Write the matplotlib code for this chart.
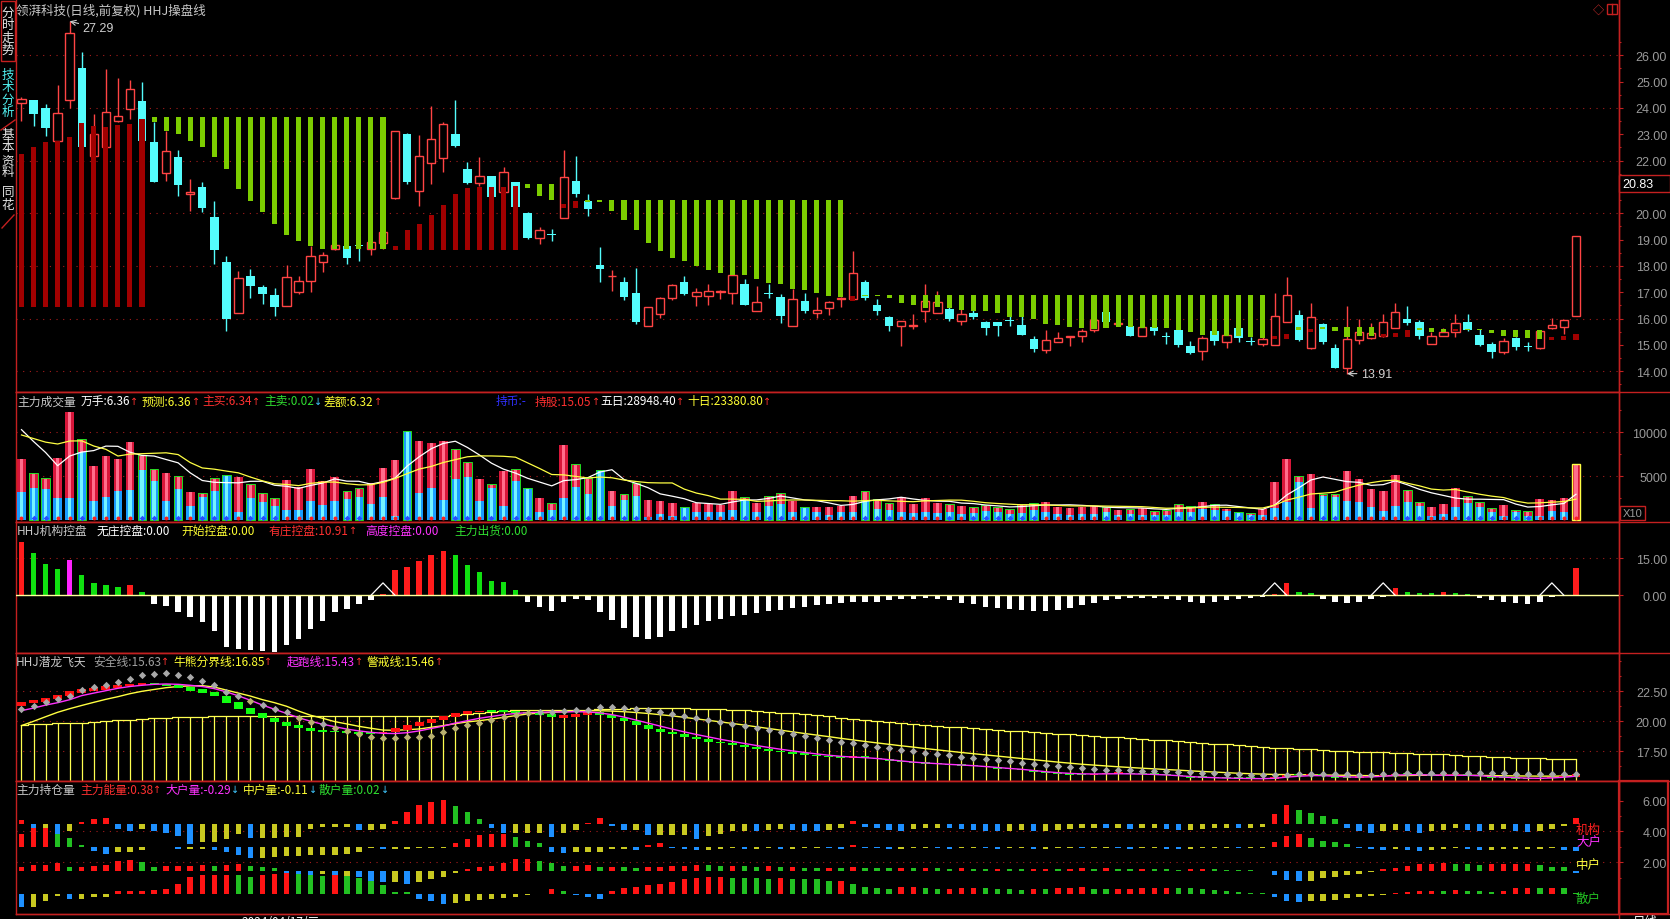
import numpy as np
import pandas as pd
import matplotlib
matplotlib.use("Agg")
import matplotlib.pyplot as plt
from matplotlib.patches import Rectangle
from matplotlib.lines import Line2D

plt.rcParams['font.family'] = ['Noto Sans CJK SC', 'DejaVu Sans']
plt.rcParams['axes.unicode_minus'] = False

# ---------------- daily k-line ----------------
open_ = [24.18, 24.30, 24.00, 22.76, 24.31, 25.52, 22.16, 22.50, 23.49, 23.96,
         24.25, 22.70, 21.53, 22.13, 20.73, 21.00, 19.85, 18.14, 16.20, 17.60,
         17.19, 16.90, 16.49, 17.00, 17.42, 18.14, 18.64, 18.77, 18.80, 18.64,
         18.86, 20.58, 23.01, 20.86, 21.90, 22.09, 23.01, 21.70, 21.14, 21.40,
         20.80, 21.18, 20.00, 19.05, 19.20, 19.81, 21.21, 20.47, 18.04, 17.60,
         17.38, 16.97, 15.73, 16.18, 16.80, 17.38, 16.87, 16.84, 17.00, 16.97,
         17.32, 16.27, 16.98, 16.81, 15.73, 16.66, 16.20, 16.42, 16.74, 16.74,
         17.38, 16.52, 16.05, 15.71, 15.73, 16.30, 16.20, 16.37, 15.89, 16.22,
         15.86, 15.86, 15.93, 15.76, 15.23, 14.82, 15.10, 15.31, 15.33, 15.55,
         16.24, 15.79, 15.73, 15.35, 15.67, 15.34, 15.58, 14.95, 14.78, 15.52,
         15.12, 15.66, 15.14, 15.04, 15.01, 15.86, 16.14, 14.90, 15.78, 14.87,
         14.11, 15.20, 15.25, 15.33, 15.66, 15.98, 15.86, 15.04, 15.33, 15.48,
         15.86, 15.38, 15.04, 14.74, 15.25, 14.95, 14.87, 15.66, 15.69, 16.11]
high = [24.40, 24.30, 24.15, 24.87, 27.29, 26.14, 23.77, 25.48, 25.13, 25.06,
        24.97, 23.45, 23.14, 22.40, 21.30, 21.18, 20.48, 18.39, 17.82, 17.89,
        17.29, 17.15, 18.04, 17.63, 18.77, 18.52, 18.85, 18.83, 18.83, 18.96,
        19.40, 23.14, 23.05, 22.97, 24.06, 23.45, 24.30, 21.94, 22.13, 21.43,
        21.75, 21.20, 20.05, 19.47, 19.40, 22.40, 22.16, 20.73, 18.71, 17.85,
        17.57, 17.91, 16.45, 16.81, 17.31, 17.63, 17.15, 17.31, 17.09, 17.66,
        17.50, 17.25, 17.31, 16.94, 17.12, 16.97, 16.81, 16.68, 16.83, 18.55,
        17.47, 16.74, 16.09, 15.90, 16.17, 17.32, 17.04, 16.43, 16.40, 16.37,
        15.92, 15.86, 16.11, 16.11, 15.35, 15.57, 15.48, 15.33, 15.61, 16.05,
        16.30, 15.85, 15.76, 15.76, 15.70, 15.50, 15.61, 15.16, 15.35, 15.61,
        15.48, 15.69, 15.29, 15.29, 16.96, 17.57, 16.33, 16.59, 15.83, 15.04,
        16.47, 15.98, 15.83, 16.17, 16.59, 16.47, 15.95, 15.48, 15.63, 16.17,
        16.17, 15.60, 15.12, 15.25, 15.29, 15.10, 15.54, 16.01, 15.95, 19.13]
low = [23.52, 23.33, 22.95, 22.76, 23.99, 22.50, 22.16, 22.50, 23.46, 23.58,
       22.70, 21.18, 21.21, 20.67, 20.10, 20.04, 18.08, 15.54, 16.20, 16.77,
       16.56, 16.08, 16.49, 16.93, 17.00, 17.76, 18.60, 18.08, 18.20, 18.43,
       18.64, 20.54, 21.10, 20.29, 21.11, 21.58, 22.50, 21.10, 21.05, 20.60,
       20.77, 20.20, 19.03, 18.83, 18.96, 19.81, 20.60, 19.91, 17.40, 17.06,
       16.72, 15.80, 15.73, 16.01, 16.72, 16.90, 16.49, 16.52, 16.75, 16.56,
       16.53, 16.27, 16.78, 15.84, 15.70, 16.21, 16.03, 16.15, 16.45, 16.74,
       16.72, 16.15, 15.54, 14.97, 15.60, 15.86, 16.20, 15.92, 15.77, 15.99,
       15.39, 15.35, 15.73, 15.39, 14.74, 14.68, 15.10, 14.97, 15.12, 15.48,
       15.80, 15.70, 15.32, 15.33, 15.38, 15.04, 14.91, 14.66, 14.43, 15.01,
       14.88, 15.12, 15.01, 14.97, 15.01, 15.86, 15.16, 14.85, 15.04, 14.11,
       13.91, 15.04, 15.23, 15.29, 15.66, 15.76, 15.23, 15.04, 15.33, 15.29,
       15.54, 14.95, 14.50, 14.66, 14.80, 14.78, 14.85, 15.60, 15.42, 16.11]
close = [24.34, 23.77, 23.23, 23.80, 26.85, 22.53, 23.01, 23.84, 23.68, 24.72,
         22.76, 21.18, 22.35, 21.09, 20.80, 20.19, 18.62, 15.99, 17.54, 17.25,
         16.94, 16.43, 17.57, 17.42, 18.37, 18.43, 18.81, 18.29, 18.75, 18.90,
         19.28, 23.11, 21.18, 22.19, 22.82, 23.39, 22.57, 21.15, 21.40, 20.63,
         21.56, 20.23, 19.06, 19.37, 19.16, 21.37, 20.73, 20.16, 17.88, 17.63,
         16.83, 15.88, 16.43, 16.78, 17.28, 16.93, 17.01, 17.04, 17.02, 17.66,
         16.53, 16.63, 16.93, 16.08, 16.74, 16.30, 16.33, 16.63, 16.75, 17.72,
         16.78, 16.30, 15.70, 15.90, 15.75, 16.66, 16.62, 15.99, 16.18, 16.05,
         15.64, 15.71, 15.90, 15.39, 14.85, 15.19, 15.25, 15.33, 15.52, 15.95,
         15.88, 15.81, 15.35, 15.69, 15.54, 15.30, 14.99, 14.69, 15.25, 15.14,
         15.39, 15.25, 15.12, 15.23, 16.09, 16.90, 15.20, 16.05, 15.12, 14.11,
         15.23, 15.48, 15.45, 15.86, 16.24, 15.85, 15.33, 15.33, 15.48, 15.82,
         15.58, 15.00, 14.74, 15.14, 14.93, 14.92, 15.52, 15.75, 15.95, 19.13]

# HHJ操盘线: bar low / high, state 1 = long (dark red), 0 = short (green)
hhj_lo = [16.43] * 11 + \
         [23.45, 23.14, 23.01, 22.76, 22.50, 22.15, 21.68, 20.92, 20.48, 20.04,
          19.61, 19.19, 18.96, 18.77, 18.64, 18.64, 18.64, 18.64, 18.64, 18.64] + \
         [18.62] * 11 + [20.95, 20.67, 20.52, 20.19, 20.20] + \
         [20.44, 20.44, 20.10, 19.76, 19.38, 18.87, 18.58, 18.30, 18.20, 18.01, 17.86,
          17.73, 17.67, 17.67, 17.50, 17.35, 17.31, 17.13, 17.09, 16.97, 16.87, 16.83] + \
         [16.68] + \
         [16.84, 16.84, 16.80, 16.60, 16.50, 16.40, 16.43, 16.40, 16.33, 16.30,
          16.27, 16.20, 16.07, 16.05, 16.00, 15.80, 15.77, 15.69, 15.64, 15.60,
          15.64, 15.69, 15.69, 15.64, 15.64, 15.64, 15.57, 15.50, 15.38, 15.38,
          15.33, 15.33, 15.29, 15.25] + \
         [15.23, 15.23, 15.57, 15.50, 15.60, 15.52, 15.29, 15.33, 15.33, 15.29,
          15.29, 15.29, 15.57, 15.48, 15.50, 15.52, 15.55, 15.55, 15.45, 15.33,
          15.29, 15.26, 15.22, 15.19, 15.19, 15.19]
hhj_hi = [22.25, 22.50, 22.70, 22.76, 22.90, 23.42, 23.30, 23.27, 23.35, 23.38, 23.58] + \
         [23.64] * 20 + \
         [18.76, 19.37, 19.60, 19.93, 20.31, 20.73, 20.95, 20.99, 20.99, 20.99, 21.05] + \
         [21.10, 21.10, 21.10, 20.35, 20.47] + [20.50] * 22 + [16.85] + [16.90] * 34 + \
         [15.33, 15.42, 15.67, 15.60, 15.67, 15.67, 15.67, 15.67, 15.67, 15.42,
          15.45, 15.57, 15.63, 15.63, 15.60, 15.60, 15.60, 15.60, 15.57, 15.57,
          15.57, 15.57, 15.57, 15.31, 15.33, 15.42]
hhj_state = [1] * 11 + [0] * 20 + [1] * 11 + [0] * 3 + [1] * 2 + [0] * 22 + [1] + [0] * 34 + \
            [1, 1, 0, 1, 0, 0, 0, 0, 0, 1, 1, 1, 0, 0, 0, 1, 0, 0, 0, 0, 0, 0, 0, 1, 1, 1]

# ---------------- 主力成交量 ----------------
volume_prev = [9500, 8800, 9200, 8900, 9050, 12100, 11050, 14600, 6800]
volume = [6960, 5370, 4800, 7080, 12300, 9240, 6200, 7340, 6960, 8930,
          7450, 5830, 5370, 5070, 3250, 3100, 4800, 5180, 4950, 4120,
          3140, 2530, 4580, 3750, 5830, 4500, 4880, 3290, 3670, 4200,
          5940, 6850, 10110, 8970, 8780, 8970, 8100, 6590, 4690, 4120,
          5570, 5830, 3670, 2530, 1970, 8550, 6400, 4800, 5710, 3290,
          2990, 4200, 2310, 2230, 1970, 1550, 1930, 1850, 1770, 3290,
          2690, 1970, 2720, 3100, 2230, 1550, 1550, 1470, 1660, 2800,
          3300, 2400, 2000, 2600, 1800, 2500, 2000, 1900, 1600, 1500,
          1700, 1500, 1300, 1800, 2000, 2100, 1500, 1400, 1500, 1600,
          1500, 1200, 1300, 1400, 1100, 1200, 1800, 1600, 2050, 1860,
          1280, 1000, 820, 1280, 4320, 6960, 5070, 5260, 2990, 2990,
          5640, 4690, 3560, 3370, 5140, 3440, 2120, 1550, 1860, 3670,
          2800, 2120, 1400, 1740, 1170, 1100, 2420, 2350, 2530, 6400]
volume_main = [3250, 3670, 3560, 2530, 2530, 7790, 2230, 2690, 3370, 3440,
               5750, 4430, 2230, 3560, 1660, 2610, 3290, 5180, 910, 2530,
               2050, 1660, 1170, 1170, 2160, 1770, 2160, 2420, 2610, 1850,
               2610, 520, 10110, 3100, 3670, 2310, 4690, 4950, 2160, 3670,
               1660, 4500, 3670, 990, 1170, 2530, 3820, 2990, 5710, 1660,
               2310, 2800, 410, 720, 520, 1550, 910, 910, 910, 1170,
               2310, 910, 1660, 1890, 910, 1550, 910, 640, 910, 900,
               2200, 1300, 1200, 900, 800, 900, 800, 1000, 700, 800,
               1100, 900, 700, 800, 1200, 900, 700, 600, 700, 700,
               900, 600, 700, 600, 600, 600, 1000, 900, 1280, 1170,
               1100, 920, 550, 630, 1360, 2050, 4320, 1360, 2800, 2610,
               2160, 2050, 1550, 1100, 1590, 2050, 1670, 530, 720, 1480,
               1930, 1550, 990, 530, 990, 460, 460, 1100, 990, 0]

# ---------------- HHJ机构控盘 ----------------
control = [21.4, 17.0, 12.6, 10.6, 14.2, 8.2, 5.0, 4.2, 3.4, 4.2,
           1.3, -3.5, -4.3, -6.7, -8.7, -10.7, -14.2, -20.6, -21.4, -22.0,
           -22.3, -22.7, -20.0, -17.6, -13.5, -10.3, -6.7, -5.5, -3.4, -1.7,
           0.4, 10.2, 11.5, 13.8, 16.2, 17.8, 16.2, 12.2, 9.4, 5.8,
           5.4, 2.1, -2.5, -4.6, -6.2, -2.5, -1.6, -1.7, -6.6, -9.8,
           -13.0, -16.6, -17.4, -16.6, -14.2, -13.0, -11.8, -10.5, -9.5, -8.5,
           -8.0, -7.0, -6.5, -6.0, -5.0, -4.5, -4.0, -3.5, -3.0, -2.5,
           -2.5, -2.5, -2.0, -1.5, -1.5, -1.2, -1.5, -2.0, -3.0, -3.5,
           -4.5, -5.0, -5.5, -6.0, -6.5, -6.5, -6.0, -5.0, -4.0, -3.0,
           -2.0, -1.5, -1.2, -1.0, -1.0, -1.5, -2.0, -2.5, -3.0, -2.5,
           -2.0, -1.5, -1.2, -0.5, 0.4, 5.0, 1.5, 0.8, -1.5, -2.5,
           -3.0, -2.5, -1.5, -0.5, 3.0, 1.5, 1.0, 0.8, 1.2, 0.8,
           0.5, -1.0, -2.0, -2.5, -3.0, -3.5, -2.5, -0.5, 0.3, 10.91]
high_control_idx = [4]
signal_idx = [30, 104, 113, 127]
signal_height = 5.0

# ---------------- HHJ潜龙飞天 ----------------
safe_line = [21.00, 21.30, 21.58, 21.86, 22.14, 22.61, 22.83, 23.02, 23.25, 23.53,
             23.86, 23.94, 24.00, 23.86, 23.66, 23.39, 23.02, 22.47, 22.14, 21.72,
             21.39, 21.00, 20.75, 20.25, 19.97, 19.78, 19.44, 19.22, 18.94, 18.66,
             18.58, 18.58, 18.66, 18.72, 18.80, 19.08, 19.44, 19.69, 19.86, 20.14,
             20.33, 20.53, 20.66, 20.75, 20.80, 20.89, 20.94, 20.94, 21.20, 21.15,
             21.10, 21.00, 20.90, 20.75, 20.60, 20.45, 20.30, 20.12, 19.95, 19.78,
             19.60, 19.42, 19.25, 19.08, 18.90, 18.75, 18.60, 18.45, 18.30, 18.15,
             18.00, 17.88, 17.75, 17.62, 17.50, 17.38, 17.25, 17.15, 17.05, 16.95,
             16.85, 16.75, 16.65, 16.55, 16.45, 16.35, 16.25, 16.18, 16.10, 16.04,
             15.98, 15.94, 15.90, 15.87, 15.85, 15.82, 15.78, 15.74, 15.70, 15.66,
             15.62, 15.59, 15.56, 15.53, 15.50, 15.52, 15.58, 15.62, 15.64, 15.62,
             15.58, 15.55, 15.55, 15.57, 15.60, 15.65, 15.68, 15.68, 15.66, 15.65,
             15.65, 15.66, 15.66, 15.65, 15.62, 15.60, 15.58, 15.58, 15.60, 15.63]
bull_bear = [19.69, 19.74, 19.79, 19.83, 19.86, 19.89, 19.94, 20.02, 20.09, 20.14,
             20.19, 20.24, 20.29, 20.33, 20.36, 20.38, 20.41, 20.43, 20.45, 20.46,
             20.47, 20.47, 20.47, 20.47, 20.47, 20.47, 20.47, 20.47, 20.47, 20.47,
             20.47, 20.47, 20.47, 20.47, 20.47, 20.47, 20.52, 20.60, 20.70, 20.80,
             20.88, 20.92, 20.94, 20.94, 20.94, 20.94, 20.94, 20.94, 21.00, 21.03,
             21.05, 21.07, 21.08, 21.08, 21.08, 21.07, 21.05, 21.03, 21.00, 20.95,
             20.90, 20.85, 20.80, 20.72, 20.65, 20.57, 20.50, 20.40, 20.30, 20.20,
             20.10, 20.00, 19.90, 19.82, 19.75, 19.68, 19.60, 19.55, 19.50, 19.42,
             19.35, 19.28, 19.20, 19.15, 19.10, 19.03, 18.96, 18.90, 18.85, 18.78,
             18.70, 18.65, 18.60, 18.52, 18.45, 18.40, 18.33, 18.27, 18.20, 18.14,
             18.08, 18.02, 17.95, 17.88, 17.80, 17.75, 17.70, 17.65, 17.60, 17.55,
             17.50, 17.47, 17.44, 17.41, 17.38, 17.34, 17.30, 17.27, 17.25, 17.22,
             17.12, 17.08, 17.04, 17.00, 16.95, 16.92, 16.90, 16.88, 16.86, 16.85]
start_line = [20.89, 21.10, 21.35, 21.55, 21.80, 22.14, 22.35, 22.55, 22.75, 22.90,
              23.00, 23.08, 23.11, 23.08, 23.00, 22.90, 22.72, 22.45, 22.12, 21.75,
              21.35, 21.00, 20.65, 20.30, 20.00, 19.75, 19.55, 19.35, 19.20, 19.08,
              19.00, 18.98, 19.05, 19.20, 19.40, 19.60, 19.85, 20.05, 20.25, 20.40,
              20.55, 20.65, 20.72, 20.75, 20.78, 20.78, 20.80, 20.78, 20.70, 20.55,
              20.35, 20.10, 19.85, 19.60, 19.35, 19.12, 18.90, 18.70, 18.50, 18.32,
              18.15, 17.98, 17.82, 17.67, 17.53, 17.40, 17.28, 17.17, 17.08, 17.02,
              16.97, 16.90, 16.80, 16.70, 16.60, 16.53, 16.47, 16.41, 16.36, 16.30,
              16.23, 16.15, 16.07, 16.00, 15.90, 15.80, 15.72, 15.66, 15.62, 15.61,
              15.62, 15.63, 15.62, 15.60, 15.57, 15.53, 15.47, 15.40, 15.34, 15.30,
              15.27, 15.25, 15.23, 15.22, 15.25, 15.35, 15.42, 15.47, 15.47, 15.42,
              15.37, 15.35, 15.37, 15.42, 15.50, 15.55, 15.55, 15.52, 15.50, 15.50,
              15.50, 15.47, 15.40, 15.35, 15.30, 15.26, 15.25, 15.28, 15.34, 15.43]
warn_line = [19.64, 20.00, 20.38, 20.75, 21.05, 21.32, 21.58, 21.83, 22.05, 22.30,
             22.50, 22.65, 22.80, 22.90, 22.95, 22.97, 22.85, 22.60, 22.35, 22.10,
             21.80, 21.55, 21.25, 20.85, 20.50, 20.25, 19.97, 19.78, 19.58, 19.42,
             19.27, 19.25, 19.30, 19.36, 19.50, 19.64, 19.80, 19.95, 20.05, 20.18,
             20.33, 20.47, 20.61, 20.68, 20.75, 20.80, 20.85, 20.89, 20.88, 20.85,
             20.80, 20.73, 20.65, 20.55, 20.45, 20.33, 20.20, 20.08, 19.95, 19.82,
             19.68, 19.54, 19.40, 19.26, 19.12, 18.98, 18.85, 18.72, 18.58, 18.45,
             18.32, 18.20, 18.08, 17.96, 17.85, 17.73, 17.62, 17.51, 17.40, 17.30,
             17.20, 17.10, 17.00, 16.90, 16.80, 16.70, 16.60, 16.51, 16.42, 16.35,
             16.28, 16.21, 16.15, 16.09, 16.04, 15.98, 15.93, 15.87, 15.82, 15.77,
             15.72, 15.67, 15.63, 15.60, 15.57, 15.56, 15.55, 15.54, 15.53, 15.51,
             15.50, 15.48, 15.47, 15.47, 15.47, 15.48, 15.50, 15.50, 15.50, 15.50,
             15.50, 15.49, 15.48, 15.46, 15.45, 15.44, 15.43, 15.43, 15.44, 15.46]
box_open = [21.25, 21.53, 21.64, 21.86, 22.14, 22.36, 22.55, 22.64, 22.75, 22.97,
            23.02, 23.22, 23.14, 23.03, 22.89, 22.69, 22.47, 22.14, 21.58, 21.11,
            20.66, 20.28, 19.97, 19.69, 19.44, 19.30, 19.22, 19.14, 19.08, 19.08,
            18.99, 19.08, 19.30, 19.64, 19.86, 20.14, 20.39, 20.61, 20.75, 20.94,
            20.94, 20.89, 20.80, 20.69, 20.61, 20.30, 20.39, 20.53, 20.75, 20.55,
            20.30, 20.00, 19.65, 19.35, 19.10, 18.90, 18.70, 18.50, 18.30, 18.15,
            18.00, 17.85, 17.70, 17.55, 17.40, 17.30, 17.20, 17.10, 17.00, 16.95,
            17.00, 16.95, 16.85, 16.70, 16.60, 16.50, 16.45, 16.40, 16.35, 16.30,
            16.25, 16.15, 16.05, 16.00, 15.90, 15.75, 15.65, 15.60, 15.55, 15.52,
            15.58, 15.64, 15.66, 15.60, 15.58, 15.55, 15.50, 15.40, 15.30, 15.28,
            15.25, 15.24, 15.22, 15.20, 15.19, 15.35, 15.55, 15.50, 15.55, 15.45,
            15.30, 15.28, 15.35, 15.40, 15.50, 15.60, 15.58, 15.50, 15.45, 15.47,
            15.52, 15.50, 15.40, 15.30, 15.28, 15.22, 15.18, 15.25, 15.32, 15.38]
box_close = [21.58, 21.80, 21.97, 22.19, 22.53, 22.69, 22.78, 22.91, 23.05, 23.14,
             23.22, 23.08, 22.97, 22.80, 22.50, 22.36, 22.08, 21.53, 21.03, 20.61,
             20.25, 19.91, 19.64, 19.41, 19.22, 19.14, 19.08, 19.03, 18.94, 18.97,
             19.14, 19.44, 19.69, 19.97, 20.19, 20.47, 20.69, 20.86, 20.89, 20.75,
             20.80, 20.72, 20.61, 20.53, 20.33, 20.53, 20.61, 20.75, 20.55, 20.30,
             20.00, 19.65, 19.35, 19.10, 18.90, 18.70, 18.50, 18.30, 18.15, 18.00,
             17.85, 17.70, 17.55, 17.40, 17.30, 17.20, 17.10, 17.00, 16.95, 17.00,
             16.95, 16.85, 16.70, 16.60, 16.50, 16.45, 16.40, 16.35, 16.30, 16.25,
             16.15, 16.05, 16.00, 15.90, 15.75, 15.65, 15.60, 15.55, 15.52, 15.58,
             15.64, 15.66, 15.60, 15.58, 15.55, 15.50, 15.40, 15.30, 15.28, 15.25,
             15.24, 15.22, 15.20, 15.19, 15.35, 15.55, 15.50, 15.55, 15.45, 15.30,
             15.28, 15.35, 15.40, 15.50, 15.60, 15.58, 15.50, 15.45, 15.47, 15.52,
             15.50, 15.40, 15.30, 15.28, 15.22, 15.18, 15.25, 15.32, 15.38, 15.60]

# ---------------- 主力持仓量 ----------------
inst_qty = [0.22, -0.37, -0.37, -0.80, -0.48, 0.11, 0.28, 0.39, -0.37, -0.48,
            -0.37, -0.48, -0.58, -0.80, -1.30, -1.19, -1.19, -0.97, -0.69, -0.91,
            -0.91, -0.91, -0.87, -0.87, -0.37, -0.22, -0.22, -0.22, -0.43, -0.43,
            -0.32, 0.15, 0.76, 1.19, 1.41, 1.52, 1.13, 0.76, 0.28, -0.28,
            -0.61, -0.61, -0.61, -0.61, -0.87, -0.61, -0.39, 0.04, 0.39, -0.17,
            -0.43, -0.43, -0.76, -0.76, -0.76, -0.76, -0.97, -0.80, -0.70, -0.50,
            -0.45, -0.50, -0.40, -0.35, -0.40, -0.45, -0.50, -0.40, -0.30, 0.20,
            -0.20, -0.30, -0.40, -0.45, -0.35, -0.30, -0.25, -0.30, -0.35, -0.40,
            -0.45, -0.50, -0.45, -0.40, -0.50, -0.45, -0.40, -0.35, -0.30, -0.25,
            -0.30, -0.30, -0.35, -0.30, -0.30, -0.35, -0.40, -0.40, -0.35, -0.30,
            -0.25, -0.30, -0.25, -0.20, 0.60, 1.20, 0.90, 0.70, 0.50, 0.30,
            -0.30, -0.50, -0.60, -0.50, -0.40, -0.50, -0.60, -0.50, -0.40, -0.30,
            -0.40, -0.45, -0.40, -0.37, -0.48, -0.54, -0.48, -0.37, -0.15, 0.38]
big_qty = [0.86, 1.19, 1.19, 0.80, 0.58, 0.11, -0.26, -0.48, -0.32, -0.32,
           -0.22, -0.04, -0.04, -0.17, -0.17, -0.17, -0.22, -0.32, -0.54, -0.76,
           -0.76, -0.65, -0.60, -0.60, -0.54, -0.54, -0.54, -0.48, -0.32, -0.11,
           -0.17, -0.17, -0.17, -0.11, -0.11, -0.06, 0.26, 0.48, 0.76, 0.86,
           0.86, 0.65, 0.39, 0.22, -0.32, -0.39, -0.32, -0.32, -0.32, -0.17,
           -0.17, -0.22, 0.11, 0.22, -0.11, -0.17, -0.22, -0.20, -0.15, -0.10,
           -0.15, -0.12, -0.10, -0.15, -0.12, -0.10, -0.08, -0.10, -0.12, 0.10,
           -0.05, -0.10, -0.15, -0.12, -0.10, -0.08, -0.10, -0.12, -0.10, -0.08,
           -0.10, -0.12, -0.10, -0.10, -0.15, -0.12, -0.10, -0.08, -0.10, -0.10,
           -0.08, -0.10, -0.12, -0.10, -0.10, -0.12, -0.15, -0.12, -0.10, -0.10,
           -0.08, -0.10, -0.08, -0.05, 0.30, 0.70, 0.80, 0.60, 0.40, 0.30,
           0.20, -0.10, -0.15, -0.20, -0.15, -0.20, -0.25, -0.20, -0.15, -0.10,
           -0.15, -0.20, -0.20, -0.17, -0.17, -0.15, -0.15, -0.06, -0.22, -0.29]
mid_qty = [0.26, 0.37, 0.37, 0.48, 0.22, 0.22, 0.32, 0.39, 0.60, 0.69,
           0.54, 0.26, 0.32, 0.32, 0.32, 0.37, 0.32, 0.37, 0.43, 0.32,
           0.26, 0.17, -0.17, -0.22, -0.32, -0.22, -0.32, -0.32, -0.43, -0.65,
           -0.76, -0.76, -0.86, -0.76, -0.54, -0.39, -0.17, 0.11, 0.22, 0.32,
           0.48, 0.76, 0.76, 0.65, 0.48, 0.32, 0.32, 0.39, 0.26, 0.26,
           0.22, 0.17, 0.22, 0.26, 0.32, 0.32, 0.39, 0.35, 0.30, 0.32,
           0.28, 0.25, 0.27, 0.22, 0.25, 0.20, 0.18, 0.20, 0.17, 0.25,
           0.20, 0.18, 0.15, 0.18, 0.15, 0.17, 0.15, 0.12, 0.15, 0.13,
           0.10, 0.12, 0.10, 0.08, 0.10, 0.12, 0.10, 0.12, 0.15, 0.13,
           0.15, 0.12, 0.10, 0.12, 0.10, 0.08, 0.06, 0.08, 0.10, 0.08,
           0.06, 0.05, 0.04, -0.05, -0.30, -0.60, -0.70, -0.65, -0.50, -0.40,
           -0.30, -0.20, -0.10, 0.10, 0.20, 0.30, 0.40, 0.45, 0.50, 0.45,
           0.40, 0.38, 0.40, 0.43, 0.43, 0.45, 0.37, 0.26, 0.22, -0.15]
retail_qty = [-0.86, -0.86, -0.50, -0.17, -0.32, -0.32, -0.22, -0.22, 0.17, 0.17,
              0.17, 0.22, 0.32, 0.65, 1.08, 1.19, 1.19, 1.25, 1.19, 1.12,
              1.19, 1.30, 1.34, 1.30, 1.19, 1.17, 1.19, 1.15, 1.04, 0.82,
              0.54, 0.11, 0.10, -0.33, -0.50, -0.65, -0.60, -0.50, -0.43, -0.37,
              -0.26, -0.22, -0.11, -0.04, 0.28, 0.17, -0.11, -0.22, -0.33, 0.17,
              0.39, 0.43, 0.60, 0.65, 0.78, 0.97, 1.04, 1.06, 1.08, 1.04,
              1.02, 1.00, 0.98, 1.00, 0.98, 0.96, 0.93, 0.82, 0.84, 0.65,
              0.43, 0.35, 0.34, 0.43, 0.44, 0.39, 0.33, 0.34, 0.39, 0.40,
              0.38, 0.33, 0.28, 0.27, 0.33, 0.31, 0.39, 0.40, 0.41, 0.33,
              0.32, 0.33, 0.34, 0.35, 0.39, 0.40, 0.37, 0.36, 0.28, 0.22,
              0.17, 0.12, 0.08, 0.02, -0.20, -0.45, -0.55, -0.50, -0.45, -0.40,
              -0.30, -0.20, -0.12, -0.05, 0.05, 0.10, 0.15, 0.20, 0.18, 0.22,
              0.20, 0.15, 0.12, 0.17, 0.35, 0.39, 0.35, 0.37, 0.35, 0.02]
holder_names = ['机构', '大户', '中户', '散户']
last_price_label = '20.83'

# ---------------- layout ----------------
W, H = 1670, 920
LEFT, RIGHT = 16, 1619
RED = '#c42020'
GRID = '#a81c1c'
GREY = '#9a9a9a'
UPC = '#ff4444'
DNC = '#54fcfc'

n = len(close)
x = np.arange(n)
o, h, l, c = map(np.array, (open_, high, low, close))
up = c >= o

fig = plt.figure(figsize=(W / 100, H / 100), dpi=100, facecolor='black')
renderer = fig.canvas.get_renderer()


def fx(px):
    return px / W


def fy(py):
    return 1 - py / H


def panel(top, bottom, ylim):
    ax = fig.add_axes([fx(LEFT), fy(bottom), (RIGHT - LEFT) / W, (bottom - top) / H])
    ax.set_facecolor('black')
    ax.set_xlim(-0.456, 132.57)
    ax.set_ylim(ylim)
    for s in ax.spines.values():
        s.set_color(RED)
        s.set_linewidth(1.0)
    ax.tick_params(axis='x', which='both', bottom=False, labelbottom=False)
    ax.yaxis.tick_right()
    return ax


def right_ticks(ax, major, fmt, minor=(), hide=()):
    ax.set_yticks(major)
    ax.set_yticklabels(['' if v in hide else fmt.format(v) for v in major])
    ax.set_yticks(list(minor), minor=True)
    ax.tick_params(axis='y', which='major', length=3, width=0.8, color=RED,
                   labelcolor=GREY, labelsize=9, pad=(1667 - RIGHT - 4) * 0.72)
    ax.tick_params(axis='y', which='minor', length=1.6, width=0.8, color=RED)
    for t in ax.get_yticklabels():
        t.set_horizontalalignment('right')
        t.set_fontfamily('Liberation Sans')


def dotted(ax, levels):
    for v in levels:
        ax.axhline(v, color=GRID, lw=0.8, ls=(0, (1, 5)), zorder=0.5)


def header(y, groups, size=8.5):
    # each group: text pieces drawn one after another; arrows are small and narrow
    for x0, parts in groups:
        xx = x0
        for s, col in parts:
            if s in ('↑', '↓'):
                t = fig.text(fx(xx), fy(y), s, color=col, fontsize=7, va='center', ha='left',
                             family='DejaVu Sans')
            else:
                t = fig.text(fx(xx), fy(y), s, color=col, fontsize=size, va='center', ha='left')
            xx += t.get_window_extent(renderer).width


def fig_line(xs, ys, color=RED, lw=1.0):
    fig.add_artist(Line2D([fx(v) for v in xs], [fy(v) for v in ys], color=color, lw=lw,
                          transform=fig.transFigure))


def fig_rect(x0, y0, w, hgt, edge=RED, face='none', lw=1.0):
    fig.add_artist(Rectangle((fx(x0), fy(y0 + hgt)), w / W, hgt / H, transform=fig.transFigure,
                             edgecolor=edge, facecolor=face, lw=lw))


# ---------------- panel 1: price ----------------
ax1 = panel(0, 393, (13.212, 28.138))
ax1.spines['top'].set_visible(False)
dotted(ax1, [14, 16, 18, 20, 22, 24, 26])
# the 21.00 label sits under the last-price box, as in the terminal
right_ticks(ax1, list(range(14, 27)), '{:.2f}', np.arange(13.5, 27, 1.0), hide=(21,))

lo_b = np.minimum(o, c)
hi_b = np.maximum(o, c)
hb = np.maximum(hi_b - lo_b, 0.03)
ax1.vlines(x[up], hi_b[up], h[up], color=UPC, lw=1, zorder=2)
ax1.vlines(x[up], l[up], lo_b[up], color=UPC, lw=1, zorder=2)
ax1.bar(x[up], hb[up], bottom=lo_b[up], width=0.7, facecolor='black', edgecolor=UPC,
        linewidth=1, zorder=2)
ax1.vlines(x[~up], l[~up], h[~up], color=DNC, lw=1, zorder=2)
ax1.bar(x[~up], hb[~up], bottom=lo_b[~up], width=0.7, color=DNC, linewidth=0, zorder=2)

hl, hh, hs = np.array(hhj_lo), np.array(hhj_hi), np.array(hhj_state)
ax1.bar(x[hs == 1], (hh - hl)[hs == 1], bottom=hl[hs == 1], width=0.42, color='#a00000', zorder=3)
ax1.bar(x[hs == 0], (hh - hl)[hs == 0], bottom=hl[hs == 0], width=0.42, color='#7ccd00', zorder=3)

imax, imin = int(np.argmax(h)), int(np.argmin(l))
ax1.annotate(f'{h[imax]:.2f}', xy=(imax, h[imax]), xytext=(13, -7), textcoords='offset pixels',
             color='#d0d0d0', fontsize=9, va='center', family='Liberation Sans',
             arrowprops=dict(arrowstyle='->', color='#d0d0d0', lw=0.8, shrinkA=1, shrinkB=0))
ax1.annotate(f'{l[imin]:.2f}', xy=(imin, l[imin]), xytext=(14, 0), textcoords='offset pixels',
             color='#d0d0d0', fontsize=9, va='center', family='Liberation Sans',
             arrowprops=dict(arrowstyle='->', color='#d0d0d0', lw=0.8, shrinkA=1, shrinkB=0))

fig.text(fx(16), fy(11), '领湃科技(日线,前复权) HHJ操盘线', color='#c8c8c8', fontsize=9,
         va='center', ha='left')

# ---------------- panel 2: volume ----------------
ax2 = panel(393, 523, (-193, 14580))
dotted(ax2, [5000, 10000])
right_ticks(ax2, [5000, 10000], '{:.0f}', [2500, 7500, 12500])
vol = np.array(volume, dtype=float)
vmain = np.array(volume_main, dtype=float)
ax2.bar(x, vol, width=0.72, color='#d8163a', zorder=2)
ax2.bar(x, vol, width=0.26, color='#ff6d8c', zorder=2)
ax2.bar(x, vmain, width=0.72, color='#1a9cff', zorder=3)
ax2.bar(x, vmain, width=0.26, color='#74f4ff', zorder=3)
ax2.bar(x[~up], vol[~up], width=0.72, fill=False, edgecolor='#22dd22', linewidth=0.7, zorder=4)
ax2.bar(x[-1:], vol[-1:], width=0.72, fill=False, edgecolor='#ffff44', linewidth=1.0, zorder=4)
vs = pd.Series(volume_prev + volume, dtype=float)
ma5 = vs.rolling(5).mean().iloc[len(volume_prev):].to_numpy()
ma10 = vs.rolling(10).mean().iloc[len(volume_prev):].to_numpy()
ax2.plot(x, ma5, color='white', lw=0.9, zorder=6)
ax2.plot(x, ma10, color='#ffff44', lw=0.9, zorder=6)
ax2.scatter(x[up], np.full(up.sum(), 230.0), s=8, c='#ff2020', marker='o', zorder=7, linewidths=0)
ax2.scatter(x[~up], np.full((~up).sum(), 230.0), s=8, c='#2a4cff', marker='D', zorder=7,
            linewidths=0)

# ---------------- panel 3: 机构控盘 ----------------
ax3 = panel(523, 654, (-23.18, 29.47))
dotted(ax3, [15])
right_ticks(ax3, [0, 15], '{:.2f}')
ctrl = np.array(control)
prev = np.r_[0.0, ctrl[:-1]]
ccol = np.where(ctrl < 0, '#ffffff', np.where(ctrl >= prev, '#ff1c1c', '#10e010')).astype(object)
for k in high_control_idx:
    ccol[k] = '#ff22ff'
ax3.bar(x, ctrl, width=0.45, color=list(ccol), zorder=2)
ax3.axhline(0, color='#ffff99', lw=1.0, zorder=3)
for k in signal_idx:
    ax3.plot([k - 1, k, k + 1], [0, signal_height, 0], color='white', lw=0.9, zorder=4)

# ---------------- panel 4: 潜龙飞天 ----------------
ax4 = panel(654, 782, (15.025, 25.69))
dotted(ax4, [17.5, 20, 22.5])
right_ticks(ax4, [17.5, 20, 22.5], '{:.2f}', [16.25, 18.75, 21.25, 23.75, 25.0])
bb = np.array(bull_bear)
ax4.vlines(x, 15.025, bb, color='#ffff50', lw=0.9, zorder=1)
ax4.step(x, bb, where='mid', color='#ffff50', lw=0.9, zorder=1)
ax4.plot(x, warn_line, color='#ffff40', lw=1.0, zorder=2)
bo, bc = np.array(box_open), np.array(box_close)
blo = np.minimum(bo, bc)
bht = np.maximum(np.abs(bc - bo), 0.12)
bup = bc >= bo
ax4.bar(x[bup], bht[bup], bottom=blo[bup], width=0.74, color='#ff1010', zorder=3)
ax4.bar(x[~bup], bht[~bup], bottom=blo[~bup], width=0.74, color='#10ff10', zorder=3)
ax4.plot(x, start_line, color='#ff30ff', lw=1.0, zorder=4)
sl = np.array(safe_line)
above = sl >= np.array(start_line)
ax4.scatter(x[above], sl[above], s=14, marker='D', c='#a8a8a8', linewidths=0, zorder=5)
ax4.scatter(x[~above], sl[~above], s=14, marker='D', c='#b8b070', linewidths=0, zorder=5)

# ---------------- panel 5: 主力持仓量 ----------------
ax5 = panel(782, 915, (-1.364, 7.27))
dotted(ax5, [2, 4])
right_ticks(ax5, [2, 4, 6], '{:.2f}', [1, 3, 5])
row_base = [4.5, 3.0, 1.45, -0.05]
for base, series in zip(row_base, [inst_qty, big_qty, mid_qty, retail_qty]):
    v = np.array(series)
    pv = np.r_[0.0, v[:-1]]
    col = np.where(v >= 0, np.where(v >= pv, '#ff1414', '#22c022'),
                   np.where(v < pv, '#1e90ff', '#c8c820'))
    ax5.bar(x, v, bottom=base, width=0.45, color=list(col), zorder=2)
label_y = [830, 842, 866, 899]
label_c = ['#ff2020', '#ff30ff', '#ffff40', '#22c022']
for name, yy, cc in zip(holder_names, label_y, label_c):
    fig.text(fx(1576), fy(yy), name, color=cc, fontsize=9, va='center', ha='left')

# ---------------- headers ----------------
W_ = '#ffffff'
Y_ = '#ffff33'
R_ = '#ff3030'
G_ = '#30e030'
M_ = '#ff33ff'
C_ = '#40c8ff'
header(402, [(17, [('主力成交量', '#c8c8c8')]),
             (81, [('万手:6.36', W_), ('↑', R_)]),
             (142, [('预测:6.36', Y_), ('↑', R_)]),
             (202, [('主买:6.34', R_), ('↑', R_)]),
             (264, [('主卖:0.02', G_), ('↓', C_)]),
             (324, [('差额:6.32', Y_), ('↑', R_)]),
             (496, [('持币:-', '#3030ff')]),
             (535, [('持股:15.05', R_), ('↑', R_)]),
             (600, [('五日:28948.40', W_), ('↑', R_)]),
             (687, [('十日:23380.80', Y_), ('↑', R_)])])
header(531, [(17, [('HHJ机构控盘', '#c8c8c8')]),
             (97, [('无庄控盘:0.00', W_)]),
             (181, [('开始控盘:0.00', Y_)]),
             (269, [('有庄控盘:10.91', R_), ('↑', R_)]),
             (365, [('高度控盘:0.00', M_)]),
             (454, [('主力出货:0.00', G_)])])
header(662, [(16, [('HHJ潜龙飞天', '#c8c8c8')]),
             (93, [('安全线:15.63', '#a0a0a0'), ('↑', R_)]),
             (173, [('牛熊分界线:16.85', Y_), ('↑', R_)]),
             (287, [('起跑线:15.43', M_), ('↑', R_)]),
             (367, [('警戒线:15.46', Y_), ('↑', R_)])])
header(790, [(16, [('主力持仓量', '#c8c8c8')]),
             (80, [('主力能量:0.38', R_), ('↑', R_)]),
             (165, [('大户量:-0.29', M_), ('↓', C_)]),
             (243, [('中户量:-0.11', Y_), ('↓', C_)]),
             (319, [('散户量:0.02', G_), ('↓', C_)])])

# ---------------- frame, side bar, boxes ----------------
for yy in [393, 523, 654, 782, 915]:
    fig_line([LEFT, W], [yy, yy])
fig_line([RIGHT, RIGHT], [0, 920])
fig_rect(RIGHT, 782, 49, 133, lw=1.6)

fig_rect(RIGHT, 176, 51, 17, face='black')
fig.text(fx(1622), fy(184.5), last_price_label, color='white', fontsize=9, va='center',
         ha='left', family='Liberation Sans')
fig_rect(1620, 507, 25, 14)
fig.text(fx(1632.5), fy(514), 'X10', color=GREY, fontsize=8, va='center', ha='center',
         family='Liberation Sans')

fig.text(fx(1598), fy(10), '◇', color='#e03030', fontsize=8, va='center', ha='center')
fig_rect(1607, 5, 10, 10)
fig_line([1612, 1612], [5, 15])

side_tabs = [('分时走势', 32, '#e6e6e6'), ('技术分析', 94, '#50f0f0'),
             ('基本资料', 154, '#e6e6e6'), ('同花', 199, '#e6e6e6')]
for label, yc, cc in side_tabs:
    y0 = yc - (len(label) - 1) * 12.5 / 2
    for k, ch in enumerate(label):
        fig.text(fx(8), fy(y0 + k * 12.5), ch, color=cc, fontsize=9, va='center', ha='center')
fig_rect(1, 2, 14, 60)
fig_line([1, 15], [131, 121])
fig_line([2, 14], [229, 216])

fig.text(fx(241), fy(916.5), '2024/04/17/三', color='white', fontsize=8.5, va='top', ha='left')
fig.text(fx(1633), fy(916.5), '日线', color='white', fontsize=9, va='top', ha='left')

fig.savefig('out.png', dpi=100, facecolor='black')
